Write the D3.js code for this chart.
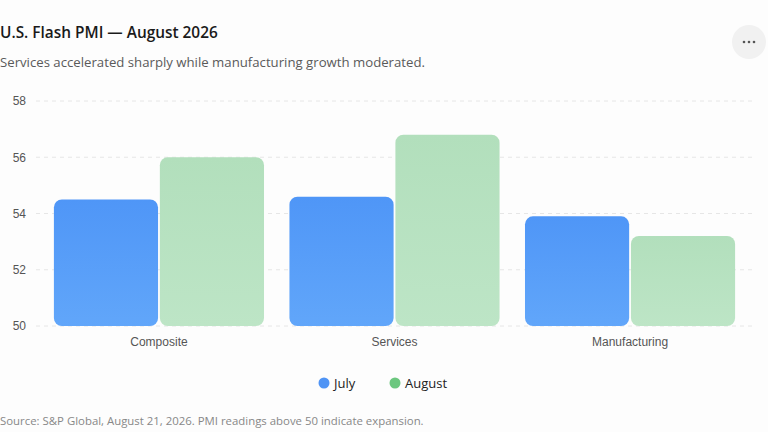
<!DOCTYPE html>
<html>
<head>
<meta charset="utf-8">
<script src="https://cdn.jsdelivr.net/npm/d3@7"></script>
<style>
  html, body { margin: 0; padding: 0; background: #fdfdfd; }
  svg { display: block; font-family: "Segoe UI", "Open Sans", "Noto Sans", sans-serif; }
</style>
</head>
<body>
<svg id="chart" width="768" height="432"></svg>
<script>
var categories = ["Composite", "Services", "Manufacturing"];
var series = ["July", "August"];
var july = [54.5, 54.6, 53.9];
var august = [56.0, 56.8, 53.2];
var yTicks = [50, 52, 54, 56, 58];

var colors = { July: ["#4f96f7", "#61a6fa"], August: ["#b2dfbc", "#bde5c6"] };
var dotColors = { July: "#4f94f5", August: "#6cc77f" };

var svg = d3.select("#chart");
var defs = svg.append("defs");
series.forEach(function(s){
	var g = defs.append("linearGradient").attr("id", "grad_" + s)
		.attr("x1", 0).attr("y1", 0).attr("x2", 0).attr("y2", 1);
	g.append("stop").attr("offset", "0%").attr("stop-color", colors[s][0]);
	g.append("stop").attr("offset", "100%").attr("stop-color", colors[s][1]);
});

var x0 = d3.scaleBand().domain(categories).range([36, 753]).paddingInner(0.108).paddingOuter(0.076);
var x1 = d3.scaleBand().domain(series).range([0, x0.bandwidth()]).paddingInner(0.017);
var y = d3.scaleLinear().domain([50, 58]).range([326, 101]);

// title and subtitle
svg.append("text").attr("x", 0).attr("y", 38)
	.attr("font-size", 15.4).attr("font-weight", 600).attr("fill", "#1a1a1a")
	.text("U.S. Flash PMI \u2014 August 2026");
svg.append("text").attr("x", 0).attr("y", 67)
	.attr("font-size", 13.2).attr("fill", "#5a5a5a")
	.text("Services accelerated sharply while manufacturing growth moderated.");

// menu button
var menu = svg.append("g").attr("transform", "translate(749,42)");
menu.append("circle").attr("r", 17).attr("fill", "#f1f1f1");
[-5, 0, 5].forEach(function(dx){
	menu.append("circle").attr("cx", dx).attr("cy", 0).attr("r", 1.3).attr("fill", "#555");
});

// grid
svg.append("g").selectAll("line").data(yTicks).join("line")
	.attr("x1", 36).attr("x2", 753)
	.attr("y1", function(d){ return y(d); }).attr("y2", function(d){ return y(d); })
	.attr("stroke", "#e6e6e6").attr("stroke-dasharray", "4,4");

// y axis
var yAxis = svg.append("g").attr("transform", "translate(26,0)")
	.call(d3.axisLeft(y).tickValues(yTicks).tickSize(0).tickPadding(0));
yAxis.select(".domain").remove();
yAxis.selectAll("text").attr("font-size", 12).attr("fill", "#555").attr("font-family", null);

// bars
var data = categories.map(function(c, i){
	return { cat: c, values: [{ s: "July", v: july[i] }, { s: "August", v: august[i] }] };
});
svg.append("g").selectAll("g").data(data).join("g")
	.attr("transform", function(d){ return "translate(" + x0(d.cat) + ",0)"; })
	.selectAll("rect").data(function(d){ return d.values; }).join("rect")
	.attr("x", function(d){ return x1(d.s); })
	.attr("y", function(d){ return y(d.v); })
	.attr("width", x1.bandwidth())
	.attr("height", function(d){ return y(50) - y(d.v); })
	.attr("rx", 8).attr("ry", 8)
	.attr("fill", function(d){ return "url(#grad_" + d.s + ")"; });

// x axis
var xAxis = svg.append("g").attr("transform", "translate(0,337)")
	.call(d3.axisBottom(x0).tickSize(0).tickPadding(0));
xAxis.select(".domain").remove();
xAxis.selectAll("text").attr("font-size", 12).attr("fill", "#555").attr("font-family", null);

// legend
var legendX = [324, 395];
var legend = svg.append("g").selectAll("g").data(series).join("g")
	.attr("transform", function(d, i){ return "translate(" + legendX[i] + ",383)"; });
legend.append("circle").attr("r", 5.5).attr("fill", function(d){ return dotColors[d]; });
legend.append("text").attr("x", 10).attr("dy", "0.35em")
	.attr("font-size", 13).attr("fill", "#222").text(function(d){ return d; });

// source
svg.append("text").attr("x", 0).attr("y", 425)
	.attr("font-size", 11.4).attr("fill", "#888")
	.text("Source: S&P Global, August 21, 2026. PMI readings above 50 indicate expansion.");
</script>
</body>
</html>
